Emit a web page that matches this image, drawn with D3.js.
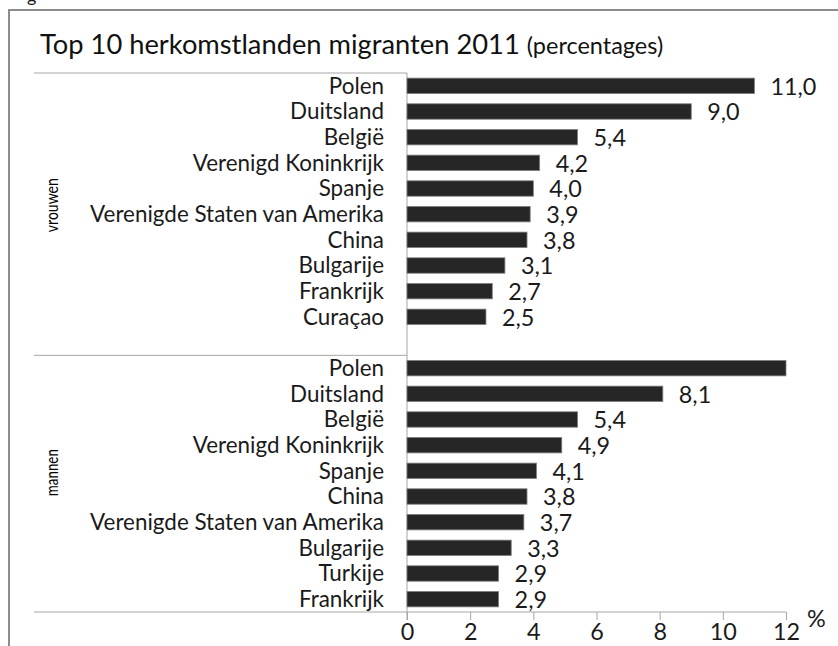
<!DOCTYPE html>
<html><head><meta charset="utf-8">
<script src="https://cdn.jsdelivr.net/npm/d3@7"></script>
<style>body{margin:0;background:#fff}svg{display:block}</style>
</head><body>
<svg id="c" width="838" height="646"></svg>
<script>
const title = "Top 10 herkomstlanden migranten 2011";
const subtitle = "(percentages)";
const groups = ["vrouwen", "mannen"];
const vrouwenCats = ["Polen","Duitsland","België","Verenigd Koninkrijk","Spanje","Verenigde Staten van Amerika","China","Bulgarije","Frankrijk","Curaçao"];
const vrouwenVals = [11.0, 9.0, 5.4, 4.2, 4.0, 3.9, 3.8, 3.1, 2.7, 2.5];
const mannenCats = ["Polen","Duitsland","België","Verenigd Koninkrijk","Spanje","China","Verenigde Staten van Amerika","Bulgarije","Turkije","Frankrijk"];
const mannenVals = [12.0, 8.1, 5.4, 4.9, 4.1, 3.8, 3.7, 3.3, 2.9, 2.9];
const mannenShowLabel = [false, true, true, true, true, true, true, true, true, true];
const xTicks = [0, 2, 4, 6, 8, 10, 12];

const FONT = "Lato, 'Open Sans', sans-serif";
const svg = d3.select("#c");

function fitSize(txt, target){
  const t = svg.append("text").attr("font-family", FONT).attr("font-size", 20).text(txt);
  const w = t.node().getComputedTextLength(); t.remove();
  return 20 * target / w;
}

const rows = [];
vrouwenCats.forEach((c,i)=>rows.push({key:"v"+i, cat:c, val:vrouwenVals[i], show:true}));
rows.push({key:"blank", cat:"", val:null});
mannenCats.forEach((c,i)=>rows.push({key:"m"+i, cat:c, val:mannenVals[i], show:mannenShowLabel[i]}));

const x = d3.scaleLinear().domain([0, 12]).range([407, 786]);
const y = d3.scaleBand().domain(rows.map(r=>r.key)).range([73, 612]).paddingInner(0.4).paddingOuter(0.2);
const step = y.step();
const textCol = "#1a1a1a";

// frame
svg.append("rect").attr("x", 9).attr("y", 10).attr("width", 900).attr("height", 700)
  .attr("fill", "none").attr("stroke", "#8c8c8c").attr("stroke-width", 2);
svg.append("text").attr("x", 27).attr("y", 2).attr("font-family", FONT).attr("font-size", 18).attr("fill", textCol).text("g");

// title
const tSize = fitSize(title, 480);
const tt = svg.append("text").attr("x", 40).attr("y", 54).attr("font-family", FONT).attr("fill", "#111");
tt.append("tspan").attr("font-size", tSize).text(title + " ");
tt.append("tspan").attr("font-size", tSize*0.86).text(subtitle);

const lineCol = "#a6a6a6";
const yTop = 73, yMid = y.range()[0] + step*11, yBot = 612;
[yTop, yMid].forEach(yy => svg.append("line").attr("x1", 34).attr("x2", 407).attr("y1", yy).attr("y2", yy).attr("stroke", lineCol));

const valSize = fitSize("11,0", 46);

// x axis
const xAxis = d3.axisBottom(x).tickValues(xTicks).tickSize(8).tickFormat(d3.format("d"));
const gx = svg.append("g").attr("transform", `translate(0,${yBot})`).call(xAxis);
gx.attr("font-size", null).attr("font-family", null);
gx.select(".domain").remove();
gx.selectAll(".tick line").attr("stroke", lineCol);
gx.selectAll(".tick text").attr("font-family", FONT).style("font-size", valSize + "px").attr("fill", textCol).attr("y", 28).attr("dy", "0");
svg.append("line").attr("x1", 34).attr("x2", 786).attr("y1", yBot).attr("y2", yBot).attr("stroke", lineCol);
svg.append("line").attr("x1", 407).attr("x2", 407).attr("y1", yTop).attr("y2", yBot + 8).attr("stroke", lineCol);
svg.append("text").attr("x", 807).attr("y", 627).attr("font-family", FONT).style("font-size", valSize + "px").attr("fill", textCol).text("%");

// bars
const data = rows.filter(r => r.val != null);
svg.append("g").selectAll("rect").data(data).join("rect")
  .attr("x", x(0)).attr("y", d => y(d.key)).attr("width", d => x(d.val) - x(0)).attr("height", y.bandwidth())
  .attr("fill", "#262626").attr("stroke", "#7f7f7f").attr("stroke-width", 0.8);

// category labels
const catSize = fitSize("Verenigde Staten van Amerika", 294);
svg.append("g").selectAll("text").data(data).join("text")
  .attr("x", 384).attr("y", d => y(d.key) + y.bandwidth()/2).attr("dy", "0.35em")
  .attr("text-anchor", "end").attr("font-family", FONT).attr("font-size", catSize).attr("fill", textCol)
  .text(d => d.cat);

// value labels
const fmt = v => d3.format(".1f")(v).replace(".", ",");
svg.append("g").selectAll("text").data(data.filter(d => d.show)).join("text")
  .attr("x", d => x(d.val) + 16).attr("y", d => y(d.key) + y.bandwidth()/2).attr("dy", "0.38em")
  .attr("font-family", FONT).attr("font-size", valSize).attr("fill", textCol)
  .text(d => fmt(d.val));

// group labels
const gSize = 18;
const groupLens = [54, 47];
const groupCenters = [(yTop + yMid)/2 - 9, (yMid + yBot)/2 - 11];
groups.forEach((g, i) => {
  svg.append("text").attr("transform", `translate(52,${groupCenters[i]}) rotate(-90)`)
    .attr("text-anchor", "middle").attr("dy", "0.35em")
    .attr("textLength", groupLens[i]).attr("lengthAdjust", "spacingAndGlyphs")
    .attr("font-family", FONT).style("font-size", gSize + "px").attr("fill", "#000").text(g);
});
</script>
</body></html>
